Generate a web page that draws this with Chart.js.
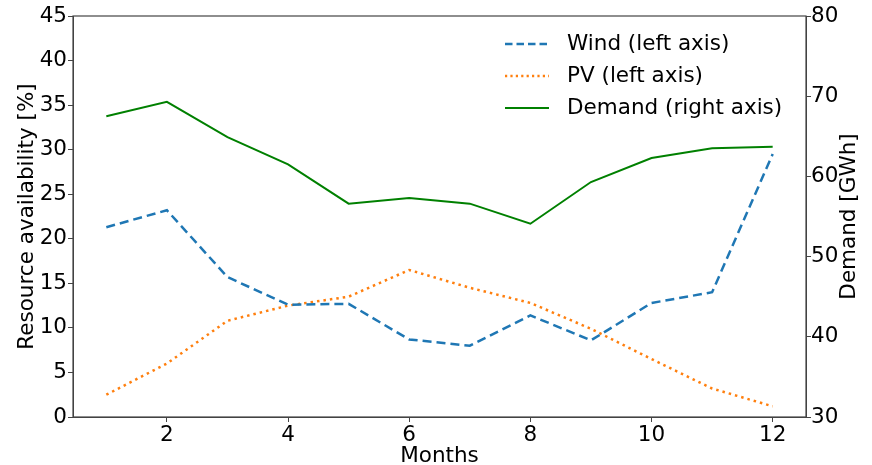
<!DOCTYPE html>
<html>
<head>
<meta charset="utf-8">
<script src="https://cdn.jsdelivr.net/npm/chart.js@4.4.1/dist/chart.umd.min.js"></script>
<style>
    body { margin: 0; background: #fff; }
    #wrap { width: 872px; height: 465px; }
</style>
</head>
<body>
<div id="wrap"><canvas id="myChart" width="872" height="465"></canvas></div>
<script>
const months = [1, 2, 3, 4, 5, 6, 7, 8, 9, 10, 11, 12];
const wind = [21.3, 23.2, 15.7, 12.6, 12.7, 8.7, 8.0, 11.4, 8.6, 12.8, 14.0, 29.5];
const pv = [2.5, 6.0, 10.8, 12.5, 13.5, 16.5, 14.5, 12.8, 9.9, 6.5, 3.2, 1.2];
const demand = [67.5, 69.3, 64.9, 61.5, 56.6, 57.3, 56.6, 54.1, 59.3, 62.3, 63.5, 63.7];
const xTicks = [2, 4, 6, 8, 10, 12];
const leftTicks = [0, 5, 10, 15, 20, 25, 30, 35, 40, 45];
const rightTicks = [30, 40, 50, 60, 70, 80];
const rightTitle = 'Demand [GWh]';

const font = "'DejaVu Sans', sans-serif";
const fontSize = 21.5;
const spine = '#444';

function toPoints(values) {
    return months.map((m, i) => ({ x: m, y: values[i] }));
}

// box round the plot, right axis title (reads upward) and the legend inside the plot
const framePlugin = {
    id: 'frame',
    afterDraw(chart) {
        const ctx = chart.ctx;
        const a = chart.chartArea;
        ctx.save();
        ctx.strokeStyle = spine;
        ctx.lineWidth = 1.2;
        ctx.strokeRect(a.left, a.top, a.right - a.left, a.bottom - a.top);

        ctx.font = fontSize + 'px ' + font;
        ctx.fillStyle = '#000';
        ctx.textBaseline = 'middle';

        ctx.save();
        ctx.translate(849, (a.top + a.bottom) / 2);
        ctx.rotate(-Math.PI / 2);
        ctx.textAlign = 'center';
        ctx.fillText(rightTitle, 0, 0);
        ctx.restore();

        ctx.textAlign = 'left';
        chart.data.datasets.forEach((ds, i) => {
            const y = 44 + i * 32;
            ctx.beginPath();
            ctx.strokeStyle = ds.borderColor;
            ctx.lineWidth = ds.borderWidth;
            ctx.setLineDash(ds.legendDash || []);
            ctx.moveTo(505, y);
            ctx.lineTo(549, y);
            ctx.stroke();
            ctx.setLineDash([]);
            ctx.fillText(ds.label, 567, y);
        });
        ctx.restore();
    }
};

new Chart(document.getElementById('myChart'), {
    type: 'line',
    data: {
        datasets: [{
            label: 'Wind (left axis)',
            data: toPoints(wind),
            borderColor: '#1f77b4',
            borderWidth: 2.5,
            borderDash: [9, 5],
            legendDash: [7.5, 4],
            yAxisID: 'y'
        }, {
            label: 'PV (left axis)',
            data: toPoints(pv),
            borderColor: '#ff7f0e',
            borderWidth: 2.5,
            borderDash: [2.5, 4],
            legendDash: [2.2, 3.2],
            yAxisID: 'y'
        }, {
            label: 'Demand (right axis)',
            data: toPoints(demand),
            borderColor: '#008000',
            borderWidth: 2,
            yAxisID: 'y1'
        }]
    },
    options: {
        responsive: false,
        animation: false,
        elements: {
            point: { radius: 0 },
            line: { tension: 0, fill: false }
        },
        layout: { padding: { top: 16, left: 0, right: 0, bottom: 0 } },
        plugins: {
            legend: { display: false },
            tooltip: { enabled: false }
        },
        scales: {
            x: {
                type: 'linear',
                min: 0.45,
                max: 12.55,
                afterBuildTicks: axis => { axis.ticks = xTicks.map(v => ({ value: v })); },
                afterFit: axis => { axis.height = 48; },
                grid: { drawOnChartArea: false, tickLength: 5, color: spine },
                border: { color: spine },
                ticks: { color: '#000', font: { family: font, size: fontSize }, padding: 1, maxRotation: 0 },
                title: { display: true, text: 'Months', color: '#000', font: { family: font, size: fontSize }, padding: { top: 0, bottom: -4 } }
            },
            y: {
                position: 'left',
                min: 0,
                max: 45,
                afterBuildTicks: axis => { axis.ticks = leftTicks.map(v => ({ value: v })); },
                afterFit: axis => { axis.width = 73; },
                grid: { drawOnChartArea: false, tickLength: 5, color: spine },
                border: { color: spine },
                ticks: { color: '#000', font: { family: font, size: fontSize }, padding: 1 },
                title: { display: true, text: 'Resource availability [%]', color: '#000', font: { family: font, size: fontSize }, padding: { top: 15, bottom: 0 } }
            },
            y1: {
                position: 'right',
                min: 30,
                max: 80,
                afterBuildTicks: axis => { axis.ticks = rightTicks.map(v => ({ value: v })); },
                afterFit: axis => { axis.width = 66; },
                grid: { drawOnChartArea: false, tickLength: 5, color: spine },
                border: { color: spine },
                ticks: { color: '#000', font: { family: font, size: fontSize }, padding: 0 },
                title: { display: false }
            }
        }
    },
    plugins: [framePlugin]
});
</script>
</body>
</html>
